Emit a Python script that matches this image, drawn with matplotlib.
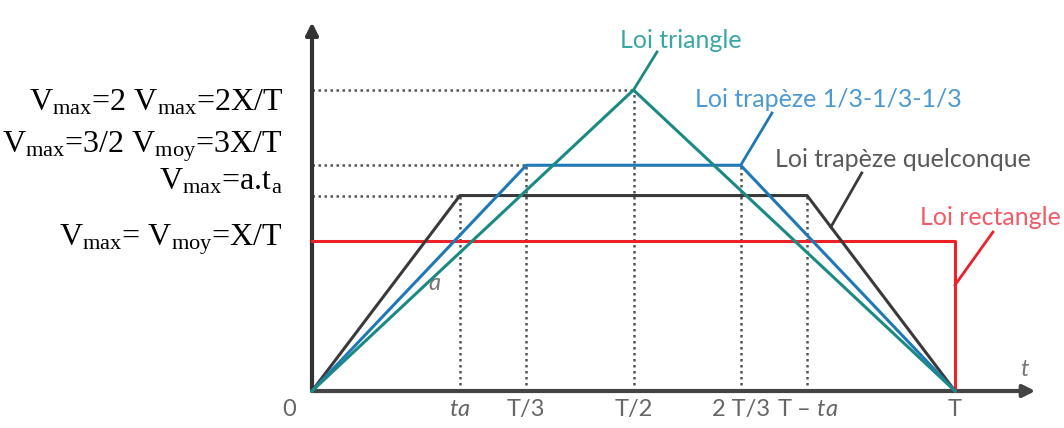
import matplotlib.pyplot as plt

# Lois de mouvement (T = 1, X = 1, vitesse moyenne = 1)
T = 1.0
ta = 0.23
v_quel = 1.0 / (T - ta)

t_triangle = [0, T / 2, T]
v_triangle = [0, 2.0, 0]

t_trap = [0, T / 3, 2 * T / 3, T]
v_trap = [0, 1.5, 1.5, 0]

t_quel = [0, ta, T - ta, T]
v_quel_pts = [0, v_quel, v_quel, 0]

t_rect = [0, T, T]
v_rect = [1.0, 1.0, 0]

tick_pos = [-0.035, ta, T / 3, T / 2, 2 * T / 3, T - ta, T]
tick_labels = ['0', r'$\it{ta}$', 'T/3', 'T/2', '2 T/3', r'T – $\it{ta}$', 'T']

VMAX = r'$\mathregular{V_{max}}$'
VMOY = r'$\mathregular{V_{moy}}$'
left_labels = [VMAX + '=2 ' + VMAX + '=2X/T',
               VMAX + '=3/2 ' + VMOY + '=3X/T',
               VMAX + r'=a.t$\mathregular{_a}$',
               VMAX + '= ' + VMOY + '=X/T']
left_y = [1.867, 1.588, 1.336, 0.970]

c_tri = '#1b8a84'
c_trap = '#1f78b8'
c_quel = '#3a3a3a'
c_rect = '#ee2028'
c_grid = '#555555'

plt.rcParams['mathtext.fontset'] = 'custom'
plt.rcParams['mathtext.it'] = 'Lato:italic'
plt.rcParams['mathtext.rm'] = 'Lato'

fig = plt.figure(figsize=(10.64, 4.28), dpi=100)
ax = fig.add_axes([0, 0, 1, 1])
ax.set_xlim(-312 / 643, (1064 - 312) / 643)
ax.set_ylim((391 - 428) / 150.5, 391 / 150.5)
ax.axis('off')

# pointillés de repère
dot = dict(color=c_grid, lw=1.8, ls=(0, (1.0, 1.4)), zorder=1)
ax.plot([0, T / 2], [2, 2], **dot)
ax.plot([0, T / 3], [1.5, 1.5], **dot)
ax.plot([0, ta], [v_quel, v_quel], **dot)
ax.plot([ta, ta], [0, v_quel], **dot)
ax.plot([T - ta, T - ta], [0, v_quel], **dot)
ax.plot([T / 3, T / 3], [0, 1.5], **dot)
ax.plot([2 * T / 3, 2 * T / 3], [0, 1.5], **dot)
ax.plot([T / 2, T / 2], [0, 2], **dot)

# axes avec flèches
ax.annotate('', xy=(0, 2.45), xytext=(0, 0),
            arrowprops=dict(arrowstyle='-|>', color='#333333', lw=3,
                            mutation_scale=18, shrinkA=0, shrinkB=0), zorder=2)
ax.annotate('', xy=(1.125, 0), xytext=(0, 0),
            arrowprops=dict(arrowstyle='-|>', color='#444444', lw=3,
                            mutation_scale=18, shrinkA=0, shrinkB=0), zorder=2)

# courbes
ax.plot(t_rect, v_rect, color=c_rect, lw=2.2, zorder=3)
ax.plot(t_quel, v_quel_pts, color=c_quel, lw=2.2, zorder=4)
ax.plot(t_trap, v_trap, color=c_trap, lw=2.2, zorder=5)
ax.plot(t_triangle, v_triangle, color=c_tri, lw=2.2, zorder=6)

# lignes de rappel des étiquettes
ax.plot([T / 2, 0.5365], [2.0, 2.2525], color=c_tri, lw=2, zorder=6)
ax.plot([2 * T / 3, 0.7154], [1.5, 1.847], color=c_trap, lw=2, zorder=5)
xq = 0.807
ax.plot([xq, 0.855], [v_quel * (T - xq) / ta, 1.449], color=c_quel, lw=2, zorder=4)
ax.plot([T, 1.059], [0.704, 1.056], color=c_rect, lw=2, zorder=3)

sans = 'Lato'
lab = dict(family=sans, fontsize=18, va='center')
ax.text(0.573, 2.332, 'Loi triangle', color='#3aa6a6', ha='center', **lab)
ax.text(0.596, 1.934, 'Loi trapèze 1/3-1/3-1/3', color='#4b9ad6', ha='left', **lab)
ax.text(0.720, 1.535, 'Loi trapèze quelconque', color='#5a5a5a', ha='left', **lab)
ax.text(0.9456, 1.156, 'Loi rectangle', color='#f25a66', ha='left', **lab)

ax.text(0.19, 0.715, 'a', color='#777777', fontsize=17, style='italic',
        family=sans, ha='center', va='center')
ax.text(1.108, 0.14, 't', color='#777777', fontsize=17, style='italic',
        family=sans, ha='center', va='center')

for x, s in zip(tick_pos, tick_labels):
    ax.text(x, -0.126, s, color='#666666', fontsize=17, family=sans,
            ha='center', va='center')

for s, y in zip(left_labels, left_y):
    ax.text(-29 / 643, y, s, fontsize=23, family='Liberation Serif',
            ha='right', va='baseline', color='black')

fig.savefig('out.png', dpi=100)
